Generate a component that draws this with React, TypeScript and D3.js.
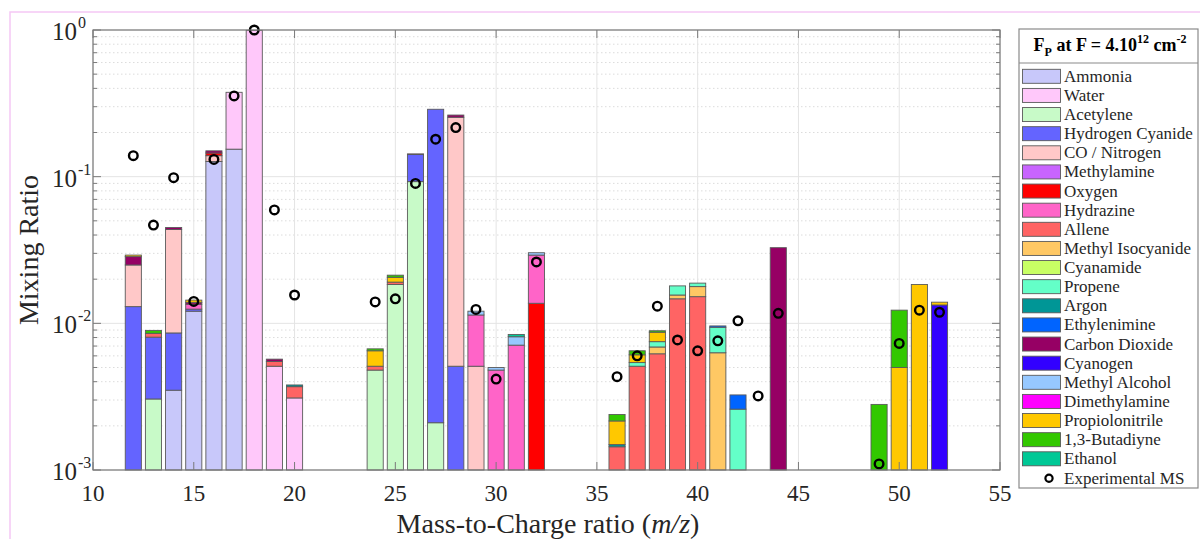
import React from "react";
import * as d3 from "d3";

const massCharge = [12, 13, 14, 15, 16, 17, 18, 19, 20, 24, 25, 26, 27, 28, 29, 30, 31, 32, 36, 37, 38, 39, 40, 41, 42, 44, 49, 50, 51, 52];

const speciesNames = ["Ammonia", "Water", "Acetylene", "Hydrogen Cyanide", "CO / Nitrogen", "Methylamine", "Oxygen", "Hydrazine", "Allene", "Methyl Isocyanide", "Cyanamide", "Propene", "Argon", "Ethylenimine", "Carbon Dioxide", "Cyanogen", "Methyl Alcohol", "Dimethylamine", "Propiolonitrile", "1,3-Butadiyne", "Ethanol"];
const speciesColors = ["#c8c8fa", "#ffc8fa", "#c8fac8", "#6464ff", "#ffc8c8", "#c864ff", "#ff0000", "#ff64c8", "#ff6464", "#ffc864", "#c8ff64", "#64ffc8", "#009696", "#0064ff", "#960064", "#3200ff", "#96c8ff", "#ff00ff", "#ffc800", "#32c800", "#00c896"];

// [m/z, mixing ratio] per species
const ammonia = [[14, 0.0035], [15, 0.0121], [16, 0.127], [17, 0.154]];
const water = [[17, 0.222], [18, 0.995], [19, 0.0051], [20, 0.0031]];
const acetylene = [[13, 0.00305], [24, 0.0048], [25, 0.0184], [26, 0.0925], [27, 0.0021]];
const hydrogenCyanide = [[12, 0.013], [13, 0.005], [14, 0.0051], [15, 0.0004], [26, 0.049], [27, 0.286], [28, 0.0051]];
const coNitrogen = [[12, 0.012], [14, 0.035], [16, 0.012], [28, 0.249], [29, 0.0051]];
const methylamine: number[][] = [];
const oxygen = [[16, 0.006], [32, 0.0137]];
const hydrazine = [[15, 0.001], [29, 0.0063], [30, 0.0048], [31, 0.0071], [32, 0.0155]];
const allene = [[13, 0.0005], [19, 0.0004], [20, 0.0006], [24, 0.0003], [25, 0.0007], [36, 0.00144], [37, 0.0051], [38, 0.0062], [39, 0.0147], [40, 0.0152]];
const methylIsocyanide = [[38, 0.0007], [39, 0.0009], [40, 0.0026], [41, 0.0063]];
const cyanamide: number[][] = [];
const propene = [[37, 0.0003], [38, 0.0006], [39, 0.0024], [40, 0.001], [41, 0.0031], [42, 0.0026]];
const argon = [[20, 0.0001], [36, 0.00005]];
const ethylenimine = [[41, 0.0002], [42, 0.00065]];
const carbonDioxide = [[12, 0.0035], [14, 0.0014], [15, 0.0004], [16, 0.005], [19, 0.0002], [26, 0.0015], [28, 0.009], [44, 0.0328]];
const cyanogen = [[52, 0.01334]];
const methylAlcohol = [[29, 0.0007], [30, 0.0002], [31, 0.001], [32, 0.0011]];
const dimethylamine: number[][] = [];
const propiolonitrile = [[12, 0.0007], [15, 0.0005], [24, 0.0014], [25, 0.0015], [36, 0.00067], [37, 0.0007], [38, 0.0012], [50, 0.005], [51, 0.0184], [52, 0.0006]];
const butadiyne = [[13, 0.0004], [24, 0.0002], [25, 0.0007], [36, 0.00023], [37, 0.0004], [38, 0.0002], [49, 0.0028], [50, 0.0073]];
const ethanol = [[31, 0.0003]];

const speciesData = [ammonia, water, acetylene, hydrogenCyanide, coNitrogen, methylamine, oxygen, hydrazine, allene, methylIsocyanide, cyanamide, propene, argon, ethylenimine, carbonDioxide, cyanogen, methylAlcohol, dimethylamine, propiolonitrile, butadiyne, ethanol];

const expMassCharge = [12, 13, 14, 15, 16, 17, 18, 19, 20, 24, 25, 26, 27, 28, 29, 30, 32, 36, 37, 38, 39, 40, 41, 42, 43, 44, 49, 50, 51, 52];
const expValues = [0.139, 0.0468, 0.0984, 0.0141, 0.131, 0.355, 1.0, 0.0593, 0.0156, 0.014, 0.0147, 0.09, 0.18, 0.216, 0.01245, 0.00417, 0.0262, 0.00433, 0.006, 0.0131, 0.0077, 0.0065, 0.0076, 0.0104, 0.0032, 0.0117, 0.0011, 0.0073, 0.0123, 0.0119];

const xTicks = [10, 15, 20, 25, 30, 35, 40, 45, 50, 55];
const yDecades = [-3, -2, -1, 0];

const FONT = "'Liberation Serif', 'DejaVu Serif', serif";

export default function App() {
  const L = 93, R = 1000, T = 30, B = 470;
  const x = d3.scaleLinear().domain([10, 55]).range([L, R]);
  const y = d3.scaleLog().domain([1e-3, 1]).range([B, T]);

  const rows = massCharge.map((mz) => {
    const r: any = { mz };
    speciesNames.forEach((name, i) => {
      const f = speciesData[i].find((p) => p[0] === mz);
      r[name] = f ? f[1] : 0;
    });
    return r;
  });
  const stacked = d3.stack<any>().keys(speciesNames)(rows);

  const minorVals: number[] = [];
  for (let e = -3; e < 0; e++) for (let m = 2; m <= 9; m++) minorVals.push(m * Math.pow(10, e));

  const bw = x(0.4) - x(0);

  return (
    <svg width={1200} height={539} style={{ position: "absolute", left: 0, top: 0, background: "#fff" }} fontFamily={FONT}>
      <rect x={0} y={0} width={1200} height={539} fill="#fff" />
      <rect x={10} y={12} width={1250} height={600} fill="none" stroke="#f5c8f5" strokeWidth={1.5} />
      {/* grid */}
      {minorVals.map((v, i) => (
        <line key={"mg" + i} x1={L} x2={R} y1={y(v)} y2={y(v)} stroke="#dcdcdc" strokeWidth={1} strokeDasharray="1.5,2.5" />
      ))}
      {yDecades.map((e) => (
        <line key={"Mg" + e} x1={L} x2={R} y1={y(Math.pow(10, e))} y2={y(Math.pow(10, e))} stroke="#e4e4e4" strokeWidth={1} />
      ))}
      {xTicks.map((t) => (
        <line key={"xg" + t} x1={x(t)} x2={x(t)} y1={T} y2={B} stroke="#e4e4e4" strokeWidth={1} />
      ))}
      {/* bars */}
      {stacked.map((s, si) =>
        s.map((d, di) => {
          if (d[1] - d[0] <= 0) return null;
          const mz = (d.data as any).mz;
          const y0 = y(Math.max(d[0], 1e-3));
          const y1 = y(d[1]);
          return (
            <rect key={si + "-" + di} x={x(mz) - bw} width={bw * 2} y={y1} height={Math.max(0.5, y0 - y1)} fill={speciesColors[si]} stroke="#5a5a5a" strokeWidth={0.9} />
          );
        })
      )}
      {/* experimental */}
      {expMassCharge.map((mz, i) => (
        <circle key={"e" + i} cx={x(mz)} cy={y(expValues[i])} r={4.3} fill="none" stroke="#000" strokeWidth={2.4} />
      ))}
      {/* axes box */}
      <rect x={L} y={T} width={R - L} height={B - T} fill="none" stroke="#7a7a7a" strokeWidth={1.2} />
      {minorVals.map((v, i) => (
        <g key={"mt" + i}>
          <line x1={L} x2={L + 4} y1={y(v)} y2={y(v)} stroke="#7a7a7a" />
          <line x1={R - 4} x2={R} y1={y(v)} y2={y(v)} stroke="#7a7a7a" />
        </g>
      ))}
      {yDecades.map((e) => (
        <g key={"Mt" + e}>
          <line x1={L} x2={L + 8} y1={y(Math.pow(10, e))} y2={y(Math.pow(10, e))} stroke="#7a7a7a" />
          <line x1={R - 8} x2={R} y1={y(Math.pow(10, e))} y2={y(Math.pow(10, e))} stroke="#7a7a7a" />
          <text x={L - 16} y={y(Math.pow(10, e)) + 10} textAnchor="end" fontSize={25} fill="#262626">10</text>
          <text x={L - 15} y={y(Math.pow(10, e)) - 2} textAnchor="start" fontSize={16} fill="#262626">{e === 0 ? "0" : String(e)}</text>
        </g>
      ))}
      {xTicks.map((t) => (
        <g key={"xt" + t}>
          <line x1={x(t)} x2={x(t)} y1={B} y2={B - 8} stroke="#7a7a7a" />
          <line x1={x(t)} x2={x(t)} y1={T} y2={T + 8} stroke="#7a7a7a" />
          <text x={x(t)} y={501} textAnchor="middle" fontSize={23} fill="#262626">{t}</text>
        </g>
      ))}
      <text x={548} y={533} textAnchor="middle" fontSize={28} fill="#262626">
        Mass-to-Charge ratio (<tspan fontStyle="italic">m/z</tspan>)
      </text>
      <text transform="translate(38,250) rotate(-90)" textAnchor="middle" fontSize={28} fill="#262626">Mixing Ratio</text>
      {/* legend */}
      <rect x={1019} y={29} width={179} height={459} fill="#fff" stroke="#8a8a8a" strokeWidth={1.2} />
      <text x={1110} y={51} textAnchor="middle" fontSize={18} fontWeight="bold" fill="#000">
        F<tspan fontSize={12} dy={5}>P</tspan><tspan dy={-5}> at F = 4.10</tspan><tspan fontSize={12} dy={-8}>12</tspan><tspan dy={8}> cm</tspan><tspan fontSize={12} dy={-8}>-2</tspan>
      </text>
      <line x1={1019} x2={1198} y1={63} y2={63} stroke="#8a8a8a" strokeWidth={1.2} />
      {speciesNames.map((name, i) => {
        const cy = 76.3 + i * 19.125;
        return (
          <g key={"lg" + i}>
            <rect x={1022.5} y={cy - 7} width={38} height={14} fill={speciesColors[i]} stroke="#5a5a5a" strokeWidth={0.9} />
            <text x={1064} y={cy + 5.5} fontSize={17} fill="#262626">{name}</text>
          </g>
        );
      })}
      <circle cx={1049} cy={478.3} r={3.6} fill="none" stroke="#000" strokeWidth={2.2} />
      <text x={1064} y={483.8} fontSize={17} fill="#262626">Experimental MS</text>
    </svg>
  );
}
